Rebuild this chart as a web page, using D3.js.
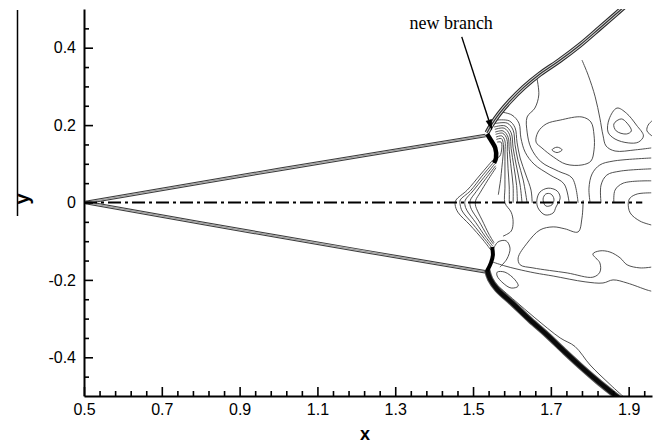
<!DOCTYPE html>
<html>
<head>
<meta charset="utf-8">
<script src="https://cdn.jsdelivr.net/npm/d3@7"></script>
<style>
  body { margin: 0; background: #fff; }
  svg { display: block; }
</style>
</head>
<body>
<svg id="chart" width="661" height="448"></svg>
<script>
// ---- axis ticks ----
const xMajorTicks = [0.5, 0.7, 0.9, 1.1, 1.3, 1.5, 1.7, 1.9];
const xTickLabels = ["0.5", "0.7", "0.9", "1.1", "1.3", "1.5", "1.7", "1.9"];
const yMajorTicks = [-0.4, -0.2, 0, 0.2, 0.4];
const yTickLabels = ["-0.4", "-0.2", "0", "0.2", "0.4"];
const xMinorStep = 0.04;
const yMinorStep = 0.05;

// ---- symmetry line ----
const symmetryLine = [[0.5, 0], [1.935, 0]];

// ---- shocks ----
const wedgeUpper = [[0.504, 0.0], [1.0, 0.085], [1.532, 0.173]];
const wedgeLower = [[0.504, 0.0], [1.0, -0.088], [1.531, -0.179]];
const shockUpper = [[1.536, 0.180], [1.549, 0.203], [1.567, 0.229], [1.595, 0.262], [1.631, 0.298],
  [1.672, 0.332], [1.724, 0.368], [1.775, 0.407], [1.826, 0.451], [1.865, 0.485], [1.891, 0.508]];
const shockLower = [[1.536, -0.174], [1.544, -0.198], [1.562, -0.224], [1.603, -0.262], [1.647, -0.304],
  [1.690, -0.342], [1.736, -0.386], [1.775, -0.422], [1.822, -0.463], [1.870, -0.502], [1.883, -0.514]];
const shockLowerEdge = [[1.562, -0.214], [1.608, -0.254], [1.659, -0.298], [1.724, -0.350], [1.762, -0.372],
  [1.801, -0.420], [1.852, -0.470], [1.890, -0.505]];
const machUpper = [[1.536, 0.177], [1.546, 0.161], [1.557, 0.141], [1.559, 0.115], [1.554, 0.102]];
const machLower = [[1.536, -0.177], [1.546, -0.156], [1.551, -0.136], [1.549, -0.115]];

// ---- reflected fan between the two Mach stems ----
const fanLines = [
  [[1.551, 0.110], [1.518, 0.071], [1.485, 0.032], [1.456, 0.006], [1.454, -0.006], [1.461, -0.025], [1.492, -0.058], [1.526, -0.097], [1.546, -0.123]],
  [[1.554, 0.105], [1.523, 0.068], [1.493, 0.030], [1.467, 0.006], [1.467, -0.006], [1.472, -0.022], [1.499, -0.055], [1.529, -0.093], [1.549, -0.118]],
  [[1.556, 0.100], [1.528, 0.065], [1.500, 0.030], [1.480, 0.006], [1.479, -0.006], [1.484, -0.020], [1.507, -0.052], [1.533, -0.090], [1.551, -0.113]],
  [[1.558, 0.095], [1.533, 0.062], [1.508, 0.028], [1.493, 0.006], [1.492, -0.006], [1.496, -0.018], [1.515, -0.048], [1.537, -0.086], [1.553, -0.108]],
  [[1.559, 0.090], [1.538, 0.058], [1.518, 0.025], [1.507, 0.006], [1.506, -0.006], [1.509, -0.016], [1.523, -0.045], [1.541, -0.082], [1.554, -0.104]]
];

// ---- nested contours behind the upper Mach stem ----
const nestedUpper = [
  [[1.562, 0.156], [1.572, 0.156], [1.574, 0.141], [1.569, 0.120], [1.562, 0.115]],
  [[1.560, 0.163], [1.573, 0.165], [1.578, 0.150], [1.577, 0.120], [1.574, 0.090], [1.571, 0.060], [1.568, 0.040], [1.565, 0.020]],
  [[1.559, 0.169], [1.574, 0.172], [1.582, 0.159], [1.582, 0.128], [1.582, 0.084], [1.582, 0.037], [1.582, -0.001],
   [1.598, -0.025], [1.603, -0.050], [1.598, -0.074], [1.577, -0.087]],
  [[1.558, 0.176], [1.576, 0.179], [1.587, 0.164], [1.588, 0.132], [1.590, 0.087], [1.593, 0.040], [1.593, -0.001]],
  [[1.557, 0.182], [1.577, 0.185], [1.590, 0.169], [1.593, 0.136], [1.598, 0.089], [1.603, 0.043], [1.603, -0.001]],
  [[1.556, 0.189], [1.580, 0.192], [1.594, 0.175], [1.598, 0.139], [1.605, 0.093], [1.612, 0.044], [1.614, -0.001]],
  [[1.554, 0.195], [1.582, 0.198], [1.598, 0.180], [1.603, 0.141], [1.611, 0.097], [1.621, 0.045], [1.626, -0.001]],
  [[1.556, 0.204], [1.588, 0.205], [1.603, 0.187], [1.608, 0.149], [1.616, 0.106], [1.629, 0.058], [1.639, -0.001]],
  [[1.559, 0.213], [1.593, 0.211], [1.608, 0.193], [1.613, 0.156], [1.621, 0.115], [1.636, 0.071], [1.649, 0.032], [1.652, -0.001]],
  [[1.572, 0.234], [1.600, 0.226], [1.618, 0.205], [1.623, 0.167], [1.634, 0.130], [1.657, 0.099], [1.698, 0.071], [1.734, 0.048], [1.747, -0.001]],
  [[1.664, 0.322], [1.669, 0.278], [1.659, 0.244], [1.639, 0.221], [1.639, 0.182], [1.649, 0.141], [1.675, 0.105], [1.719, 0.081], [1.755, 0.063], [1.770, -0.001]]
];

// ---- open contours in the downstream region ----
const openContours = [
  [[1.780, 0.368], [1.796, 0.329], [1.814, 0.273], [1.826, 0.218], [1.834, 0.174], [1.842, 0.146], [1.865, 0.133], [1.917, 0.136], [1.958, 0.141]],
  [[1.801, -0.001], [1.798, 0.037], [1.806, 0.074], [1.826, 0.097], [1.860, 0.107], [1.958, 0.115]],
  [[1.829, -0.001], [1.829, 0.045], [1.844, 0.071], [1.878, 0.081], [1.958, 0.087]],
  [[1.862, -0.001], [1.865, 0.032], [1.886, 0.050], [1.958, 0.056]],
  [[1.958, 0.025], [1.922, 0.022], [1.904, 0.012], [1.899, -0.001], [1.904, -0.027], [1.929, -0.048], [1.958, -0.058]],
  [[1.960, 0.211], [1.950, 0.200], [1.947, 0.185], [1.960, 0.172]],
  [[1.783, 0.006], [1.780, -0.040], [1.770, -0.076], [1.736, -0.068], [1.706, -0.063], [1.672, -0.071], [1.639, -0.105],
   [1.616, -0.143], [1.621, -0.161], [1.654, -0.169], [1.742, -0.182], [1.808, -0.193], [1.826, -0.180], [1.826, -0.156],
   [1.808, -0.133], [1.826, -0.125], [1.852, -0.128], [1.878, -0.143], [1.896, -0.161], [1.929, -0.169], [1.958, -0.167]],
  [[1.551, -0.154], [1.582, -0.164], [1.613, -0.172], [1.659, -0.182], [1.706, -0.190], [1.788, -0.205], [1.834, -0.208],
   [1.860, -0.200], [1.896, -0.208], [1.947, -0.226], [1.958, -0.229]],
  [[1.551, -0.123], [1.564, -0.102], [1.585, -0.099], [1.595, -0.118], [1.587, -0.146], [1.569, -0.167]]
];

// ---- closed contours ----
const closedContours = [
  [[1.662, 0.156], [1.667, 0.182], [1.688, 0.203], [1.724, 0.213], [1.780, 0.221], [1.803, 0.208], [1.811, 0.174],
   [1.811, 0.136], [1.803, 0.107], [1.780, 0.097], [1.739, 0.099], [1.706, 0.118], [1.677, 0.141]],
  [[1.703, 0.136], [1.716, 0.143], [1.729, 0.136], [1.716, 0.129]],
  [[1.870, 0.244], [1.894, 0.231], [1.920, 0.200], [1.938, 0.172], [1.925, 0.156], [1.899, 0.154], [1.865, 0.164], [1.847, 0.182], [1.850, 0.216]],
  [[1.881, 0.216], [1.896, 0.205], [1.907, 0.185], [1.894, 0.177], [1.868, 0.185], [1.862, 0.203]],
  [[1.664, 0.006], [1.672, 0.027], [1.693, 0.037], [1.716, 0.030], [1.724, 0.012], [1.713, -0.012], [1.706, -0.027], [1.685, -0.032], [1.667, -0.014]],
  [[1.680, 0.009], [1.687, 0.022], [1.700, 0.022], [1.708, 0.009], [1.703, -0.006], [1.687, -0.009]],
  [[1.562, -0.180], [1.582, -0.180], [1.608, -0.200], [1.616, -0.216], [1.598, -0.221], [1.577, -0.208], [1.562, -0.190]]
];

// ---- annotation ----
const annotationText = "new branch";
const annotationAnchor = [1.551, 0.448];
const annotationArrow = [[1.471, 0.428], [1.549, 0.186]];

// ---- layout ----
const svg = d3.select("#chart");
const x = d3.scaleLinear().domain([0.5, 1.96]).range([84, 652]);
const y = d3.scaleLinear().domain([-0.5, 0.5]).range([396, 9]);

svg.append("defs").append("clipPath").attr("id", "plot-clip")
  .append("rect").attr("x", x(0.5)).attr("y", y(0.5))
  .attr("width", x(1.96) - x(0.5)).attr("height", y(-0.5) - y(0.5));

const plot = svg.append("g").attr("clip-path", "url(#plot-clip)");

const smooth = d3.line().x(d => x(d[0])).y(d => y(d[1])).curve(d3.curveCatmullRom.alpha(0.5));
const straight = d3.line().x(d => x(d[0])).y(d => y(d[1]));
const closed = d3.line().x(d => x(d[0])).y(d => y(d[1])).curve(d3.curveCatmullRomClosed.alpha(0.5));

// thin contour lines
const thin = plot.append("g").attr("fill", "none").attr("stroke", "#3c3c3c").attr("stroke-width", 0.9);
thin.selectAll("path.open").data(openContours).join("path").attr("class", "open").attr("d", smooth);
thin.selectAll("path.nest").data(nestedUpper).join("path").attr("class", "nest").attr("d", smooth);
thin.selectAll("path.closed").data(closedContours).join("path").attr("class", "closed").attr("d", closed);
thin.selectAll("path.fan").data(fanLines).join("path").attr("class", "fan").attr("d", smooth);
thin.append("path").attr("d", smooth(shockLowerEdge));

// shock bands: stacked strokes, widest first, give a bundle of close contour lines
function band(points, layers) {
  const g = plot.append("g").attr("fill", "none").attr("stroke-linejoin", "round");
  layers.forEach(([color, width]) => {
    g.append("path").attr("d", smooth(points)).attr("stroke", color).attr("stroke-width", width);
  });
}
band(wedgeUpper, [["#3a3a3a", 3.6], ["#d0d0d0", 1.6], ["#777", 0.6]]);
band(wedgeLower, [["#3a3a3a", 3.6], ["#d0d0d0", 1.6], ["#777", 0.6]]);
band(shockUpper, [["#2a2a2a", 5.2], ["#e0e0e0", 3.0], ["#333", 1.2]]);
band(shockLower, [["#555", 6.4], ["#0a0a0a", 4.4]]);
band(machUpper, [["#000", 4.5]]);
band(machLower, [["#000", 4.0]]);

// symmetry line (dash-dot)
svg.append("path").attr("d", straight(symmetryLine))
  .attr("fill", "none").attr("stroke", "#000").attr("stroke-width", 2)
  .attr("stroke-dasharray", "13,4,3,4");

// annotation arrow
const [ax0, ay0] = [x(annotationArrow[0][0]), y(annotationArrow[0][1])];
const [ax1, ay1] = [x(annotationArrow[1][0]), y(annotationArrow[1][1])];
const ang = Math.atan2(ay1 - ay0, ax1 - ax0);
const headLen = 11, headHalf = 3.2;
const bx = ax1 - headLen * Math.cos(ang), by = ay1 - headLen * Math.sin(ang);
svg.append("line").attr("x1", ax0).attr("y1", ay0).attr("x2", bx).attr("y2", by)
  .attr("stroke", "#000").attr("stroke-width", 1.4);
svg.append("path")
  .attr("d", `M${ax1},${ay1}L${bx - headHalf * Math.sin(ang)},${by + headHalf * Math.cos(ang)}L${bx + headHalf * Math.sin(ang)},${by - headHalf * Math.cos(ang)}Z`)
  .attr("fill", "#000");
svg.append("text").attr("x", x(annotationAnchor[0])).attr("y", y(annotationAnchor[1]))
  .attr("text-anchor", "end").attr("font-family", "'Liberation Serif', 'Times New Roman', serif")
  .attr("font-size", 18).attr("fill", "#000").text(annotationText);

// axes
const font = "'Liberation Sans', Arial, Helvetica, sans-serif";
const xMinor = d3.range(0.5 + xMinorStep, 1.96, xMinorStep).filter(v => !xMajorTicks.some(t => Math.abs(t - v) < 1e-6));
const yMinor = d3.range(-0.45, 0.46, yMinorStep).filter(v => !yMajorTicks.some(t => Math.abs(t - v) < 1e-6));

svg.append("g").attr("transform", `translate(0,${y(-0.5)})`)
  .call(d3.axisBottom(x).tickValues(xMajorTicks).tickFormat((d, i) => xTickLabels[i]).tickSize(-9).tickSizeOuter(0).tickPadding(8));
svg.append("g").attr("transform", `translate(0,${y(-0.5)})`)
  .call(d3.axisBottom(x).tickValues(xMinor).tickFormat("").tickSize(-5).tickSizeOuter(0))
  .call(g => g.select(".domain").remove());
svg.append("g").attr("transform", `translate(${x(0.5)},0)`)
  .call(d3.axisLeft(y).tickValues(yMajorTicks).tickFormat((d, i) => yTickLabels[i]).tickSize(-9).tickSizeOuter(0).tickPadding(8));
svg.append("g").attr("transform", `translate(${x(0.5)},0)`)
  .call(d3.axisLeft(y).tickValues(yMinor).tickFormat("").tickSize(-5).tickSizeOuter(0))
  .call(g => g.select(".domain").remove());

svg.selectAll(".domain").attr("stroke", "#000").attr("stroke-width", 2);
svg.selectAll(".tick line").attr("stroke", "#000").attr("stroke-width", 1.6);
svg.selectAll(".tick text").attr("font-family", font).attr("font-size", 16).attr("fill", "#000");

// axis titles
svg.append("text").attr("x", 365).attr("y", 440).attr("text-anchor", "middle")
  .attr("font-family", font).attr("font-weight", "bold").attr("font-size", 18).text("x");
svg.append("text").attr("transform", "translate(29,199) rotate(-90)").attr("text-anchor", "middle")
  .attr("font-family", font).attr("font-weight", "bold").attr("font-size", 20).text("y");
svg.append("line").attr("x1", 17.5).attr("x2", 17.5).attr("y1", 10).attr("y2", 216)
  .attr("stroke", "#000").attr("stroke-width", 1.5);
</script>
</body>
</html>
